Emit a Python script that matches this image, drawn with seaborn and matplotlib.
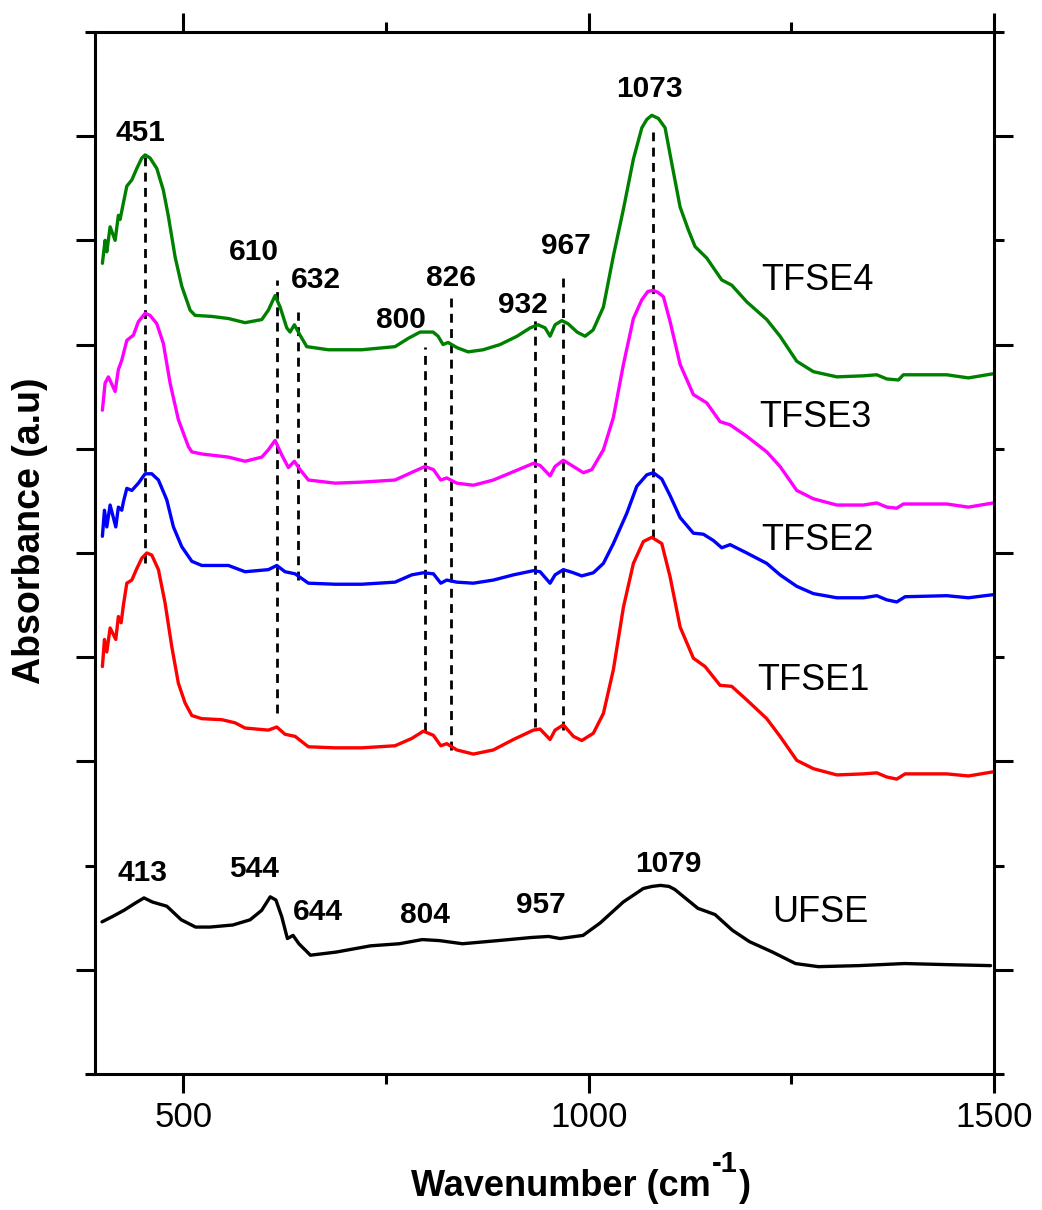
import numpy as np
import pandas as pd
import matplotlib
matplotlib.use("Agg")
import matplotlib.pyplot as plt
import seaborn as sns
from matplotlib.ticker import FixedLocator

sns.set_theme(style="ticks")
plt.rcParams['font.family'] = ['Liberation Sans', 'DejaVu Sans']
for k in ["text.color", "axes.labelcolor", "xtick.color", "ytick.color", "axes.edgecolor"]:
    plt.rcParams[k] = "black"

# ---------------- data ----------------
tfse4_x = [400.1, 403.4, 405.5, 409.6, 415.8, 419.8, 421.9, 426.0, 430.2, 436.4, 442.5, 448.7, 452.8, 458.9,
           467.2, 475.3, 481.5, 489.8, 498.0, 508.3, 514.4, 535.0, 555.5, 576.1, 596.7, 604.8, 613.1, 619.3,
           627.5, 631.6, 636.9, 643.9, 652.2, 678.9, 720.1, 761.1, 777.5, 792.0, 808.0, 814.2, 820.3, 826.5,
           837.6, 851.2, 869.7, 890.6, 911.6, 927.7, 937.5, 946.2, 952.3, 958.5, 966.8, 974.5, 985.6, 995.5,
           1005.4, 1018.1, 1030.4, 1042.8, 1055.1, 1065.5, 1071.6, 1077.8, 1085.9, 1094.2, 1102.4, 1112.7,
           1122.9, 1131.2, 1145.6, 1164.1, 1176.4, 1194.9, 1219.6, 1236.0, 1256.6, 1277.1, 1306.0, 1338.8,
           1355.3, 1367.7, 1382.0, 1388.1, 1441.6, 1468.3, 1499.1]
tfse4_y = [7.78, 8.00, 7.89, 8.13, 8.00, 8.24, 8.20, 8.36, 8.52, 8.58, 8.69, 8.79, 8.82, 8.79,
           8.69, 8.48, 8.23, 7.84, 7.56, 7.33, 7.28, 7.27, 7.25, 7.21, 7.24, 7.33, 7.47, 7.36,
           7.16, 7.12, 7.19, 7.09, 6.98, 6.95, 6.95, 6.98, 7.06, 7.12, 7.12, 7.08, 7.00, 7.02,
           6.97, 6.93, 6.95, 7.00, 7.08, 7.16, 7.19, 7.16, 7.08, 7.19, 7.23, 7.20, 7.12, 7.08,
           7.14, 7.36, 7.85, 8.30, 8.78, 9.08, 9.16, 9.20, 9.17, 9.08, 8.74, 8.32,
           8.10, 7.94, 7.83, 7.62, 7.57, 7.41, 7.24, 7.08, 6.84, 6.74, 6.69, 6.70,
           6.71, 6.67, 6.66, 6.71, 6.71, 6.68, 6.72]

tfse3_x = [400.1, 403.4, 407.5, 415.8, 419.8, 424.0, 430.2, 438.3, 444.5, 452.8, 458.9, 467.2, 475.3,
           483.6, 493.8, 506.2, 510.4, 522.7, 555.5, 576.1, 596.7, 604.8, 613.1, 621.4, 629.5, 636.9,
           643.9, 654.2, 687.1, 720.1, 761.1, 783.7, 798.1, 808.4, 817.5, 824.9, 837.2, 857.7, 882.4,
           907.1, 931.7, 940.0, 952.3, 958.5, 968.7, 981.1, 993.4, 1003.8, 1018.1, 1030.4, 1042.8,
           1055.1, 1065.5, 1073.0, 1079.7, 1085.5, 1092.1, 1100.4, 1112.7, 1129.1, 1145.6, 1162.0,
           1174.4, 1194.9, 1219.6, 1236.0, 1256.6, 1277.1, 1306.0, 1338.8, 1355.3, 1367.7, 1380.0,
           1388.1, 1441.6, 1468.3, 1499.1]
tfse3_y = [6.37, 6.63, 6.69, 6.55, 6.76, 6.85, 7.04, 7.09, 7.22, 7.30, 7.28, 7.20, 7.01,
           6.63, 6.28, 6.02, 5.97, 5.95, 5.92, 5.88, 5.92, 5.99, 6.08, 5.94, 5.82, 5.88,
           5.80, 5.70, 5.67, 5.68, 5.70, 5.78, 5.83, 5.80, 5.70, 5.72, 5.67, 5.65, 5.70,
           5.78, 5.86, 5.84, 5.74, 5.83, 5.89, 5.83, 5.77, 5.80, 5.99, 6.30, 6.81,
           7.25, 7.43, 7.51, 7.52, 7.50, 7.46, 7.22, 6.81, 6.52, 6.44, 6.26,
           6.23, 6.12, 5.97, 5.83, 5.60, 5.52, 5.46, 5.46, 5.48, 5.44, 5.43,
           5.47, 5.47, 5.44, 5.48]

tfse2_x = [400.1, 402.6, 405.5, 409.6, 416.6, 419.8, 424.0, 426.0, 430.2, 436.4, 444.5, 452.8, 461.0,
           469.2, 479.5, 487.7, 498.0, 510.4, 522.7, 555.5, 576.1, 604.8, 615.2, 625.4, 637.8, 654.2,
           687.1, 720.1, 761.1, 781.7, 796.0, 808.4, 817.5, 824.9, 837.2, 857.7, 882.4, 907.1, 931.7,
           940.0, 952.3, 958.5, 968.7, 981.1, 991.4, 1005.7, 1018.1, 1030.4, 1046.9, 1059.3, 1071.6,
           1079.7, 1090.1, 1100.4, 1112.7, 1129.1, 1141.4, 1153.7, 1164.1, 1174.4, 1194.9, 1219.6,
           1236.0, 1256.6, 1277.1, 1306.0, 1338.8, 1355.3, 1367.7, 1380.0, 1390.2, 1441.6, 1468.3, 1499.1]
tfse2_y = [5.16, 5.41, 5.25, 5.46, 5.25, 5.44, 5.41, 5.49, 5.62, 5.60, 5.67, 5.76, 5.76,
           5.70, 5.51, 5.25, 5.06, 4.92, 4.88, 4.88, 4.82, 4.84, 4.88, 4.82, 4.80, 4.71,
           4.70, 4.70, 4.72, 4.79, 4.81, 4.80, 4.71, 4.74, 4.72, 4.71, 4.74, 4.79, 4.83,
           4.82, 4.71, 4.79, 4.84, 4.81, 4.78, 4.81, 4.90, 5.09, 5.38, 5.64, 5.75,
           5.77, 5.71, 5.55, 5.34, 5.19, 5.18, 5.12, 5.05, 5.08, 5.00, 4.90,
           4.79, 4.68, 4.61, 4.57, 4.57, 4.59, 4.55, 4.53, 4.58, 4.59, 4.57, 4.60]

tfse1_x = [400.1, 402.6, 405.5, 409.6, 416.6, 419.8, 423.2, 426.0, 430.2, 436.4, 442.5, 448.7, 454.9,
           461.0, 469.2, 477.4, 485.7, 493.8, 502.1, 510.4, 522.7, 547.4, 563.8, 576.1, 604.8, 615.2,
           625.4, 637.8, 654.2, 687.1, 720.1, 761.1, 781.7, 796.0, 808.4, 817.5, 824.9, 837.2, 857.7,
           882.4, 907.1, 931.7, 940.0, 952.3, 958.5, 968.7, 981.1, 991.4, 1005.7, 1018.1, 1030.4,
           1042.8, 1055.1, 1067.4, 1077.8, 1090.1, 1100.4, 1112.7, 1129.1, 1143.5, 1162.0, 1176.4,
           1194.9, 1219.6, 1236.0, 1256.6, 1277.1, 1306.0, 1338.8, 1355.3, 1367.7, 1380.0, 1390.2,
           1441.6, 1468.3, 1499.1]
tfse1_y = [3.91, 4.17, 4.05, 4.28, 4.17, 4.39, 4.33, 4.50, 4.71, 4.74, 4.85, 4.95, 5.00,
           4.98, 4.84, 4.52, 4.10, 3.75, 3.56, 3.44, 3.41, 3.40, 3.37, 3.32, 3.30, 3.33,
           3.26, 3.24, 3.14, 3.13, 3.13, 3.15, 3.22, 3.29, 3.25, 3.15, 3.17, 3.11, 3.07,
           3.11, 3.21, 3.30, 3.31, 3.21, 3.30, 3.35, 3.24, 3.20, 3.27, 3.46, 3.88,
           4.48, 4.90, 5.11, 5.15, 5.09, 4.77, 4.29, 3.99, 3.91, 3.73, 3.72,
           3.59, 3.41, 3.24, 3.01, 2.93, 2.87, 2.88, 2.89, 2.85, 2.83, 2.88,
           2.88, 2.86, 2.90]

ufse_x = [399.6, 412.3, 426.5, 440.7, 451.4, 461.9, 479.6, 497.3, 515.0, 532.7, 561.1, 582.3, 596.5,
          607.1, 614.1, 621.3, 628.3, 635.3, 642.5, 656.7, 688.5, 730.9, 766.4, 794.7, 815.9, 844.3,
          887.9, 929.3, 950.5, 964.7, 993.0, 1014.2, 1042.5, 1067.3, 1078.0, 1088.5, 1099.1, 1106.3,
          1134.6, 1155.8, 1177.1, 1198.3, 1226.7, 1255.0, 1283.3, 1332.9, 1389.5, 1439.1, 1495.7]
ufse_y = [1.46, 1.51, 1.57, 1.64, 1.69, 1.65, 1.61, 1.48, 1.41, 1.41, 1.43, 1.48, 1.57,
          1.70, 1.67, 1.51, 1.30, 1.33, 1.25, 1.14, 1.17, 1.23, 1.25, 1.29, 1.28, 1.25,
          1.28, 1.31, 1.32, 1.30, 1.33, 1.45, 1.65, 1.78, 1.80, 1.81, 1.80, 1.77,
          1.59, 1.53, 1.38, 1.27, 1.17, 1.06, 1.03, 1.04, 1.06, 1.05, 1.04]

series_names = ["TFSE4", "TFSE3", "TFSE2", "TFSE1", "UFSE"]
series_colors = ["#008000", "#ff00ff", "#0000ff", "#ff0000", "#000000"]

# dashed marker lines: position, lower end, upper end
mark_x = [452.8, 616.0, 641.1, 798.1, 830.2, 933.8, 968.7, 1079.0]
mark_lo = [4.90, 3.46, 4.74, 3.29, 3.11, 3.33, 3.30, 5.14]
mark_hi = [8.82, 7.62, 7.31, 6.98, 7.48, 7.26, 7.69, 9.04]

# peak labels: text, x, y
peak_text = ["451", "610", "632", "800", "826", "932", "967", "1073",
             "413", "544", "644", "804", "957", "1079"]
peak_tx = [446.6, 587.3, 663.1, 768.5, 830.2, 919.0, 972.0, 1075.5,
           449.1, 587.3, 666.2, 798.1, 941.2, 1097.8]
peak_ty = [9.03, 7.89, 7.62, 7.24, 7.64, 7.38, 7.95, 9.45,
           1.93, 1.97, 1.55, 1.53, 1.62, 2.02]

name_tx = [1282, 1279.5, 1282, 1277, 1285.4]
name_ty = [7.61, 6.30, 5.12, 3.78, 1.55]

x_major = [500, 1000, 1500]
x_minor = [750, 1250]

# ---------------- figure ----------------
W, H = 1042, 1210
fig = plt.figure(figsize=(W / 100, H / 100), dpi=100)
ax = fig.add_axes([0.0912, 0.1124, 0.8628, 0.8612])

frames = []
for name, xs, ys in zip(series_names,
                        [tfse4_x, tfse3_x, tfse2_x, tfse1_x, ufse_x],
                        [tfse4_y, tfse3_y, tfse2_y, tfse1_y, ufse_y]):
    frames.append(pd.DataFrame({"wavenumber": xs, "absorbance": ys, "sample": name}))
df = pd.concat(frames, ignore_index=True)

ax.vlines(mark_x, mark_lo, mark_hi, colors="black", linestyles=(0, (3.2, 2.3)),
          linewidth=2.0, zorder=1)

for name, col in zip(series_names, series_colors):
    sub = df[df["sample"] == name]
    sns.lineplot(data=sub, x="wavenumber", y="absorbance", color=col, ax=ax,
                 sort=False, estimator=None, linewidth=2.4, legend=False, zorder=2,
                 solid_joinstyle="round", solid_capstyle="round")

for t, x, y in zip(peak_text, peak_tx, peak_ty):
    ax.text(x, y, t, ha="center", va="center", fontsize=21.5, fontweight="bold")
for t, x, y in zip(series_names, name_tx, name_ty):
    ax.text(x, y, t, ha="center", va="center", fontsize=26)

ax.set_xlim(391, 1500)
ax.set_ylim(0, 10)
ax.set_xlabel("")
ax.set_ylabel("")

ax.xaxis.set_major_locator(FixedLocator(x_major))
ax.xaxis.set_minor_locator(FixedLocator(x_minor))
ax.yaxis.set_major_locator(FixedLocator([1, 3, 4, 5, 6, 7, 8, 9]))
ax.yaxis.set_minor_locator(FixedLocator([0, 2, 10]))

ax.tick_params(which="both", direction="out", top=True, right=False, bottom=True, left=True,
               labelleft=False, labelright=False, labeltop=False, width=2.2, color="black")
ax.tick_params(which="major", length=13.5, labelsize=25, pad=6)
ax.tick_params(which="minor", length=7)
for sp in ax.spines.values():
    sp.set_linewidth(2.2)
    sp.set_color("black")

# right-hand ticks (alternating long/short)
ax2 = ax.twinx()
ax2.set_ylim(0, 10)
ax2.yaxis.set_major_locator(FixedLocator([1, 3, 5, 7, 9]))
ax2.yaxis.set_minor_locator(FixedLocator([0, 2, 4, 6, 8, 10]))
ax2.tick_params(which="both", direction="out", right=True, left=False, labelright=False,
                width=2.2, color="black")
ax2.tick_params(which="major", length=13.5)
ax2.tick_params(which="minor", length=7)
for sp in ax2.spines.values():
    sp.set_visible(False)

# axis titles
fig.text(30 / W, 1 - 531 / H, "Absorbance (a.u)", rotation=90, ha="center", va="center",
         fontsize=27, fontweight="bold")

renderer = fig.canvas.get_renderer()
yb = 1 - 1196 / H
ys = 1 - 1172 / H
t1 = fig.text(0, yb, "Wavenumber (cm", fontsize=26, fontweight="bold", ha="left", va="baseline")
t2 = fig.text(0, ys, "-1", fontsize=21, fontweight="bold", ha="left", va="baseline")
t3 = fig.text(0, yb, ")", fontsize=26, fontweight="bold", ha="left", va="baseline")
w1 = t1.get_window_extent(renderer).width
w2 = t2.get_window_extent(renderer).width
w3 = t3.get_window_extent(renderer).width
x0 = 581 - (w1 + w2 + w3 + 2) / 2
t1.set_x(x0 / W)
t2.set_x((x0 + w1 + 1) / W)
t3.set_x((x0 + w1 + w2 + 2) / W)

fig.savefig("out.png", dpi=100)
